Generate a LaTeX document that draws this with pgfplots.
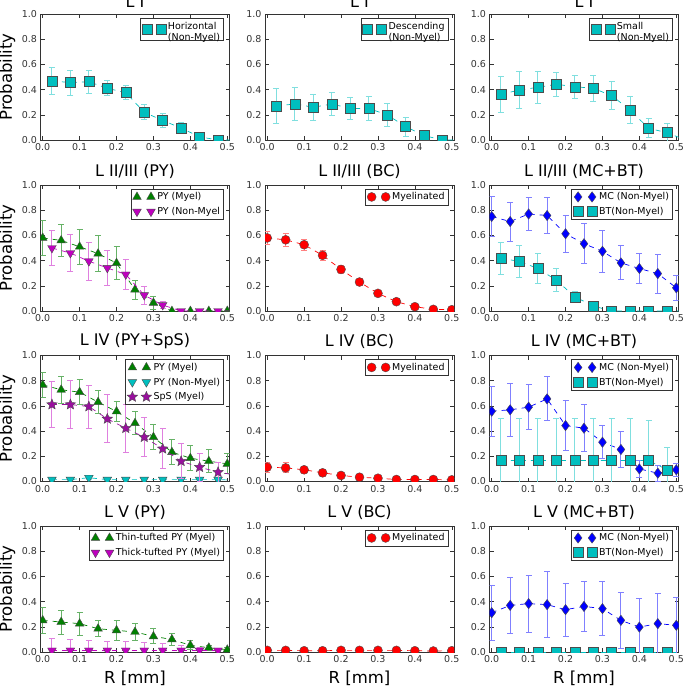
\documentclass[border=0pt]{standalone}
\usepackage{fontspec}
\setmainfont{DejaVu Sans}
\usepackage{pgfplots}
\pgfplotsset{compat=1.18}
\usetikzlibrary{plotmarks}

\definecolor{cc}{rgb}{0,0.75,0.75}
\definecolor{gg}{rgb}{0,0.5,0}
\definecolor{mm}{rgb}{0.75,0,0.75}
\definecolor{rr}{rgb}{1,0,0}
\definecolor{bb}{rgb}{0,0,1}
\definecolor{pp}{rgb}{0.6,0.06,0.62}

% filled five-pointed star
\pgfdeclareplotmark{fstar}{%
  \pgfpathmoveto{\pgfpointpolar{90}{\pgfplotmarksize}}%
  \pgfpathlineto{\pgfpointpolar{126}{0.45\pgfplotmarksize}}%
  \pgfpathlineto{\pgfpointpolar{162}{\pgfplotmarksize}}%
  \pgfpathlineto{\pgfpointpolar{198}{0.45\pgfplotmarksize}}%
  \pgfpathlineto{\pgfpointpolar{234}{\pgfplotmarksize}}%
  \pgfpathlineto{\pgfpointpolar{270}{0.45\pgfplotmarksize}}%
  \pgfpathlineto{\pgfpointpolar{306}{\pgfplotmarksize}}%
  \pgfpathlineto{\pgfpointpolar{342}{0.45\pgfplotmarksize}}%
  \pgfpathlineto{\pgfpointpolar{18}{\pgfplotmarksize}}%
  \pgfpathlineto{\pgfpointpolar{54}{0.45\pgfplotmarksize}}%
  \pgfpathclose
  \pgfusepathqfillstroke
}

\pgfplotsset{
  panel/.style={
    scale only axis, width=189pt, height=126pt, anchor=south west,
    xmin=-0.006, xmax=0.506, ymin=0, ymax=1,
    xtick={0,0.1,0.2,0.3,0.4,0.5}, ytick={0,0.2,0.4,0.6,0.8,1},
    /pgf/number format/assume math mode=true,
    xticklabel style={/pgf/number format/.cd, fixed, fixed zerofill, precision=1},
    yticklabel style={/pgf/number format/.cd, fixed, fixed zerofill, precision=1},
    tick label style={font=\fontsize{9.5}{11}\selectfont, text=black!80},
    tick style={black!80, line width=0.5pt}, major tick length=4pt,
    axis line style={black!80, line width=0.6pt},
    clip marker paths=true,
    title style={font=\fontsize{16}{18}\selectfont, yshift=-3pt},
    label style={font=\fontsize{16.5}{18}\selectfont},
    ylabel style={at={(axis description cs:-0.175,0.5)}, anchor=center},
    xlabel style={at={(axis description cs:0.5,-0.205)}, anchor=center},
    legend style={at={(0.97,0.97)}, anchor=north east, draw=black!80,
      font=\fontsize{9.5}{11}\selectfont, cells={anchor=west},
      inner sep=1.5pt, row sep=2pt, line width=0.6pt},
    legend image code/.code={\draw[##1] plot[only marks] coordinates {(0pt,0pt) (14pt,0pt)};},
  },
  ser/.style n args={4}{
    color=#1, dash pattern=on 5pt off 5pt, line width=0.7pt,
    mark=#2, mark size=5pt,
    mark options={solid, fill=#1, draw=black!70, line width=0.4pt, #3},
    error bars/y dir=both, error bars/y explicit,
    error bars/error bar style={draw=#4, line width=0.9pt, solid},
    error bars/error mark options={draw=#4, mark size=3pt, line width=0.9pt, rotate=90},
  },
}

\begin{document}
\begin{tikzpicture}

% ---------------- row 1 : L I ----------------
\begin{axis}[panel, at={(40.5pt,-140pt)}, title={L I}, ylabel={Probability}]
\addplot[ser={cc}{square*}{}{cc!50!white}] table[x=x,y=y,y error=e,row sep=\\]{
x y e\\
0.025 0.470 0.105\\
0.075 0.455 0.100\\
0.125 0.463 0.090\\
0.175 0.410 0.060\\
0.225 0.376 0.055\\
0.275 0.220 0.060\\
0.325 0.155 0.055\\
0.375 0.095 0.045\\
0.425 0.025 0.020\\
0.475 0.000 0.000\\
0.525 0.000 0.000\\
};
\addlegendentry{\begin{tabular}{@{}l@{}}Horizontal\\(Non-Myel)\end{tabular}}
\end{axis}

\begin{axis}[panel, at={(265pt,-140pt)}, title={L I}]
\addplot[ser={cc}{square*}{}{cc!50!white}] table[x=x,y=y,y error=e,row sep=\\]{
x y e\\
0.025 0.270 0.140\\
0.075 0.286 0.130\\
0.125 0.260 0.105\\
0.175 0.286 0.095\\
0.225 0.250 0.086\\
0.275 0.250 0.095\\
0.325 0.200 0.090\\
0.375 0.106 0.075\\
0.425 0.035 0.030\\
0.475 0.000 0.000\\
0.525 0.000 0.000\\
};
\addlegendentry{\begin{tabular}{@{}l@{}}Descending\\(Non-Myel)\end{tabular}}
\end{axis}

\begin{axis}[panel, at={(489.5pt,-140pt)}, title={L I}]
\addplot[ser={cc}{square*}{}{cc!50!white}] table[x=x,y=y,y error=e,row sep=\\]{
x y e\\
0.025 0.362 0.145\\
0.075 0.397 0.150\\
0.125 0.418 0.130\\
0.175 0.442 0.095\\
0.225 0.423 0.090\\
0.275 0.410 0.105\\
0.325 0.352 0.110\\
0.375 0.238 0.110\\
0.425 0.093 0.075\\
0.475 0.058 0.070\\
0.525 0.000 0.000\\
};
\addlegendentry{\begin{tabular}{@{}l@{}}Small\\(Non-Myel)\end{tabular}}
\end{axis}

% ---------------- row 2 : L II/III ----------------
\begin{axis}[panel, at={(40.5pt,-311pt)}, title={L II/III (PY)}, ylabel={Probability}]
\addplot[ser={gg}{triangle*}{}{gg!60!white}] table[x=x,y=y,y error=e,row sep=\\]{
x y e\\
0.00 0.580 0.140\\
0.05 0.560 0.130\\
0.10 0.510 0.140\\
0.15 0.455 0.145\\
0.20 0.380 0.130\\
0.25 0.170 0.075\\
0.30 0.065 0.050\\
0.35 0.000 0.000\\
0.40 0.000 0.000\\
0.45 0.000 0.000\\
0.50 0.000 0.000\\
};
\addlegendentry{PY (Myel)}
\addplot[ser={mm}{triangle*}{rotate=180}{mm!50!white}] table[x=x,y=y,y error=e,row sep=\\]{
x y e\\
0.025 0.500 0.140\\
0.075 0.460 0.150\\
0.125 0.395 0.150\\
0.175 0.342 0.140\\
0.225 0.290 0.120\\
0.275 0.126 0.070\\
0.325 0.047 0.030\\
0.375 0.000 0.000\\
0.425 0.000 0.000\\
0.475 0.000 0.000\\
0.525 0.000 0.000\\
};
\addlegendentry{PY (Non-Myel}
\end{axis}

\begin{axis}[panel, at={(265pt,-311pt)}, title={L II/III (BC)}]
\addplot[ser={rr}{*}{}{rr!50!white}, mark size=4.5pt] table[x=x,y=y,y error=e,row sep=\\]{
x y e\\
0.00 0.580 0.050\\
0.05 0.565 0.050\\
0.10 0.526 0.045\\
0.15 0.442 0.040\\
0.20 0.330 0.030\\
0.25 0.230 0.025\\
0.30 0.140 0.020\\
0.35 0.074 0.015\\
0.40 0.034 0.010\\
0.45 0.013 0.008\\
0.50 0.010 0.005\\
};
\addlegendentry{Myelinated}
\end{axis}

\begin{axis}[panel, at={(489.5pt,-311pt)}, title={L II/III (MC+BT)}]
\addplot[ser={bb}{diamond*}{}{bb!50!white}, mark size=5.2pt] table[x=x,y=y,y error=e,row sep=\\]{
x y e\\
0.00 0.750 0.160\\
0.05 0.710 0.155\\
0.10 0.770 0.130\\
0.15 0.758 0.140\\
0.20 0.613 0.145\\
0.25 0.534 0.160\\
0.30 0.474 0.165\\
0.35 0.382 0.135\\
0.40 0.337 0.120\\
0.45 0.297 0.155\\
0.50 0.184 0.100\\
};
\addlegendentry{MC (Non-Myel)}
\addplot[ser={cc}{square*}{}{cc!50!white}] table[x=x,y=y,y error=e,row sep=\\]{
x y e\\
0.025 0.416 0.125\\
0.075 0.395 0.125\\
0.125 0.337 0.120\\
0.175 0.245 0.090\\
0.225 0.113 0.040\\
0.275 0.040 0.020\\
0.325 0.000 0.000\\
0.375 0.000 0.000\\
0.425 0.000 0.000\\
0.475 0.000 0.000\\
0.525 0.000 0.000\\
};
\addlegendentry{BT(Non-Myel)}
\end{axis}

% ---------------- row 3 : L IV ----------------
\begin{axis}[panel, at={(40.5pt,-481.5pt)}, title={L IV (PY+SpS)}, ylabel={Probability}]
\addplot[ser={gg}{triangle*}{}{gg!60!white}] table[x=x,y=y,y error=e,row sep=\\]{
x y e\\
0.00 0.767 0.100\\
0.05 0.728 0.105\\
0.10 0.709 0.100\\
0.15 0.630 0.090\\
0.20 0.556 0.080\\
0.25 0.463 0.090\\
0.30 0.352 0.100\\
0.35 0.233 0.100\\
0.40 0.185 0.100\\
0.45 0.161 0.090\\
0.50 0.140 0.080\\
};
\addlegendentry{PY (Myel)}
\addplot[ser={cc}{triangle*}{rotate=180}{cc!50!white}] table[x=x,y=y,y error=e,row sep=\\]{
x y e\\
0.025 0.015 0.010\\
0.075 0.015 0.010\\
0.125 0.030 0.010\\
0.175 0.015 0.010\\
0.225 0.015 0.010\\
0.275 0.015 0.010\\
0.325 0.015 0.010\\
0.375 0.015 0.010\\
0.425 0.015 0.010\\
0.475 0.015 0.010\\
0.525 0.010 0.000\\
};
\addlegendentry{PY (Non-Myel)}
\addplot[ser={pp}{fstar}{}{mm!50!white}, mark size=5.5pt] table[x=x,y=y,y error=e,row sep=\\]{
x y e\\
0.025 0.611 0.185\\
0.075 0.611 0.190\\
0.125 0.595 0.170\\
0.175 0.497 0.190\\
0.225 0.423 0.190\\
0.275 0.352 0.155\\
0.325 0.260 0.160\\
0.375 0.161 0.140\\
0.425 0.114 0.110\\
0.475 0.074 0.080\\
0.525 0.050 0.050\\
};
\addlegendentry{SpS (Myel)}
\end{axis}

\begin{axis}[panel, at={(265pt,-481.5pt)}, title={L IV (BC)}]
\addplot[ser={rr}{*}{}{rr!50!white}, mark size=4.5pt] table[x=x,y=y,y error=e,row sep=\\]{
x y e\\
0.00 0.114 0.040\\
0.05 0.108 0.040\\
0.10 0.093 0.030\\
0.15 0.069 0.025\\
0.20 0.048 0.020\\
0.25 0.034 0.015\\
0.30 0.026 0.010\\
0.35 0.016 0.010\\
0.40 0.016 0.010\\
0.45 0.016 0.010\\
0.50 0.013 0.010\\
};
\addlegendentry{Myelinated}
\end{axis}

\begin{axis}[panel, at={(489.5pt,-481.5pt)}, title={L IV (MC+BT)}]
\addplot[ser={bb}{diamond*}{}{bb!50!white}, mark size=5.2pt] table[x=x,y=y,y error=e,row sep=\\]{
x y e\\
0.00 0.558 0.200\\
0.05 0.569 0.210\\
0.10 0.590 0.180\\
0.15 0.656 0.175\\
0.20 0.444 0.200\\
0.25 0.423 0.185\\
0.30 0.312 0.130\\
0.35 0.254 0.145\\
0.40 0.100 0.070\\
0.45 0.066 0.065\\
0.50 0.093 0.050\\
};
\addlegendentry{MC (Non-Myel)}
\addplot[ser={cc}{square*}{}{cc!50!white}] table[x=x,y=y,y error=e,row sep=\\]{
x y e\\
0.025 0.167 0.333\\
0.075 0.167 0.333\\
0.125 0.167 0.333\\
0.175 0.167 0.333\\
0.225 0.167 0.333\\
0.275 0.167 0.333\\
0.325 0.167 0.333\\
0.375 0.167 0.333\\
0.425 0.167 0.320\\
0.475 0.093 0.180\\
};
\addlegendentry{BT(Non-Myel)}
\end{axis}

% ---------------- row 4 : L V ----------------
\begin{axis}[panel, at={(40.5pt,-652pt)}, title={L V (PY)}, ylabel={Probability}, xlabel={R [mm]}]
\addplot[ser={gg}{triangle*}{}{gg!60!white}] table[x=x,y=y,y error=e,row sep=\\]{
x y e\\
0.00 0.251 0.105\\
0.05 0.238 0.095\\
0.10 0.225 0.090\\
0.15 0.185 0.065\\
0.20 0.172 0.080\\
0.25 0.159 0.065\\
0.30 0.124 0.060\\
0.35 0.100 0.050\\
0.40 0.053 0.035\\
0.45 0.034 0.020\\
0.50 0.018 0.015\\
};
\addlegendentry{Thin-tufted PY (Myel)}
\addplot[ser={mm}{triangle*}{rotate=180}{mm!50!white}] table[x=x,y=y,y error=e,row sep=\\]{
x y e\\
0.025 0.012 0.093\\
0.075 0.012 0.088\\
0.125 0.012 0.078\\
0.175 0.012 0.073\\
0.225 0.012 0.073\\
0.275 0.012 0.062\\
0.325 0.012 0.054\\
0.375 0.012 0.041\\
0.425 0.012 0.028\\
0.475 0.012 0.010\\
};
\addlegendentry{Thick-tufted PY (Myel)}
\end{axis}

\begin{axis}[panel, at={(265pt,-652pt)}, title={L V (BC)}, xlabel={R [mm]}]
\addplot[ser={rr}{*}{}{rr!50!white}, mark size=4.5pt] table[x=x,y=y,y error=e,row sep=\\]{
x y e\\
0.00 0.013 0.005\\
0.05 0.013 0.005\\
0.10 0.010 0.005\\
0.15 0.010 0.005\\
0.20 0.013 0.005\\
0.25 0.013 0.005\\
0.30 0.013 0.005\\
0.35 0.013 0.005\\
0.40 0.010 0.005\\
0.45 0.008 0.005\\
0.50 0.010 0.005\\
};
\addlegendentry{Myelinated}
\end{axis}

\begin{axis}[panel, at={(489.5pt,-652pt)}, title={L V (MC+BT)}, xlabel={R [mm]}]
\addplot[ser={bb}{diamond*}{}{bb!50!white}, mark size=5.2pt] table[x=x,y=y,y error=e,row sep=\\]{
x y e\\
0.00 0.312 0.220\\
0.05 0.370 0.220\\
0.10 0.384 0.225\\
0.15 0.376 0.260\\
0.20 0.336 0.210\\
0.25 0.362 0.195\\
0.30 0.344 0.215\\
0.35 0.251 0.225\\
0.40 0.198 0.230\\
0.45 0.225 0.240\\
0.50 0.212 0.220\\
};
\addlegendentry{MC (Non-Myel)}
\addplot[ser={cc}{square*}{}{cc!50!white}] table[x=x,y=y,y error=e,row sep=\\]{
x y e\\
0.025 0.000 0.000\\
0.075 0.000 0.000\\
0.125 0.000 0.000\\
0.175 0.000 0.000\\
0.225 0.000 0.000\\
0.275 0.000 0.000\\
0.325 0.000 0.000\\
0.375 0.000 0.000\\
0.425 0.000 0.000\\
0.475 0.000 0.000\\
0.525 0.000 0.000\\
};
\addlegendentry{BT(Non-Myel)}
\end{axis}

\pgfresetboundingbox
\path (0pt,0pt) rectangle (684pt,-686pt);
\end{tikzpicture}
\end{document}
